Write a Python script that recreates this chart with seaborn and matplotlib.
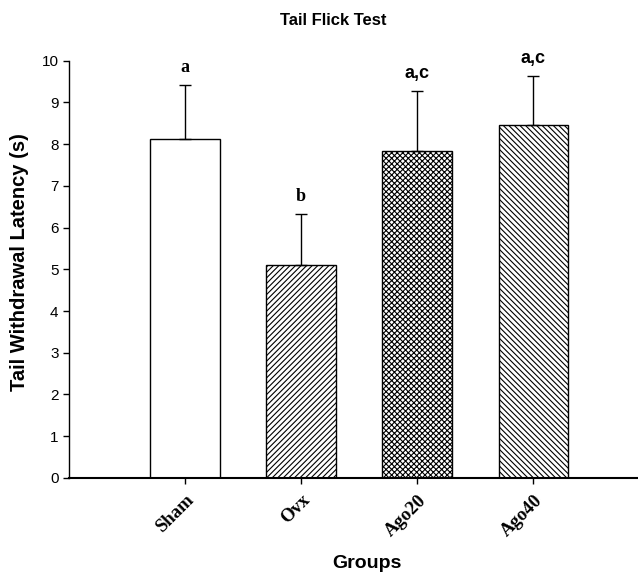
import matplotlib
matplotlib.use("Agg")
import matplotlib.pyplot as plt
import seaborn as sns
import pandas as pd
import numpy as np

groups = ["Sham", "Ovx", "Ago20", "Ago40"]
means = [8.12, 5.11, 7.84, 8.46]
upper = [9.42, 6.33, 9.28, 9.64]
letters = ["a", "b", "a,c", "a,c"]
hatches = ["", "//////", "xxxxxx", "\\\\\\\\\\\\"]

sns.set_theme(style="white")
plt.rcParams['hatch.linewidth'] = 0.8
plt.rcParams['text.color'] = 'black'
plt.rcParams['axes.labelcolor'] = 'black'

df = pd.DataFrame({"group": groups, "mean": means})

fig = plt.figure(figsize=(6.38, 5.73), dpi=100)
ax = fig.add_axes([0.108, 0.166, 0.892, 0.728])

sns.barplot(data=df, x="group", y="mean", ax=ax, color="white",
            edgecolor="black", linewidth=1.0, width=0.6, errorbar=None)
for patch, h in zip(ax.patches, hatches):
    patch.set_hatch(h)
    patch.set_facecolor("white")
    patch.set_edgecolor("black")

x = np.arange(len(groups))
err = np.array(upper) - np.array(means)
ax.errorbar(x, means, yerr=[np.zeros(len(groups)), err], fmt="none",
            ecolor="black", elinewidth=1.0, capsize=4.5, capthick=1.0, zorder=1)

for i, (lab, top) in enumerate(zip(letters, upper)):
    fam = "Liberation Sans" if "," in lab else "Liberation Serif"
    ax.text(i, top + 0.22, lab, ha="center", va="bottom", fontsize=13,
            fontweight="bold", family=fam, color="black", clip_on=False)

ax.set_xlim(-1.0, 3.9)
ax.set_ylim(0, 10)
ax.set_yticks(range(0, 11))
ax.set_yticklabels([str(v) for v in range(0, 11)], family="Liberation Sans", fontsize=11)
ax.set_xticks(x)
ax.set_xticklabels(groups, rotation=45, ha="right", va="top", rotation_mode="anchor",
                   family="Liberation Serif", fontweight="bold", fontsize=13.5)

for s in ["top", "right"]:
    ax.spines[s].set_visible(False)
ax.spines["left"].set_color("black")
ax.spines["bottom"].set_color("black")
ax.spines["left"].set_linewidth(1.0)
ax.spines["bottom"].set_linewidth(1.5)
ax.tick_params(axis="both", direction="out", length=4, width=1, color="black",
               bottom=True, left=True, labelcolor="black")
ax.tick_params(axis="x", pad=6)

ax.set_xlabel("Groups", family="Liberation Sans", fontweight="bold", fontsize=14)
ax.xaxis.label.set_va("center")
ax.xaxis.set_label_coords(0.524, -0.205)
ax.set_ylabel("Tail Withdrawal Latency (s)", family="Liberation Sans", fontweight="bold",
              fontsize=14.5)
ax.yaxis.label.set_va("center")
ax.yaxis.set_label_coords(-0.086, 0.518)
fig.text(0.522, 0.965, "Tail Flick Test", ha="center", va="center",
         family="Liberation Sans", fontweight="bold", fontsize=12, color="black")

fig.savefig("out.png", dpi=100, facecolor="white")
